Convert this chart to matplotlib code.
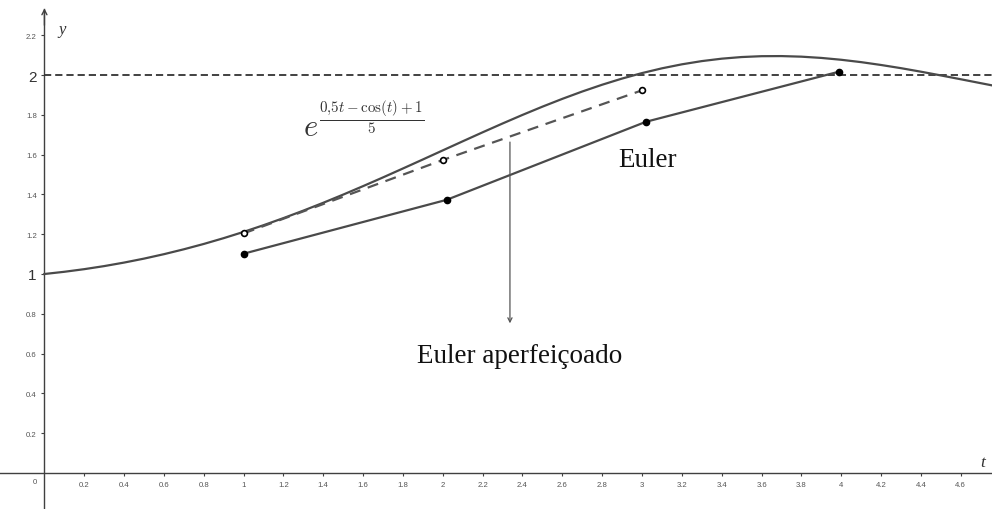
import matplotlib
matplotlib.use('Agg')
import matplotlib.pyplot as plt

# curve e^((0.5t - cos t + 1)/5)
t_curve = [0.0, 0.1, 0.2, 0.3, 0.4, 0.5, 0.6, 0.7, 0.8, 0.9, 1.0, 1.1, 1.2,
           1.3, 1.4, 1.5, 1.6, 1.7, 1.8, 1.9, 2.0, 2.1, 2.2, 2.3, 2.4, 2.5,
           2.6, 2.7, 2.8, 2.9, 3.0, 3.1, 3.2, 3.3, 3.4, 3.5, 3.6, 3.7, 3.8,
           3.9, 4.0, 4.1, 4.2, 4.3, 4.4, 4.5, 4.6, 4.7, 4.8]
y_curve = [1.0000, 1.0111, 1.0243, 1.0397, 1.0574, 1.0773, 1.0996, 1.1242,
           1.1510, 1.1802, 1.2116, 1.2452, 1.2809, 1.3185, 1.3580, 1.3991,
           1.4417, 1.4855, 1.5303, 1.5756, 1.6213, 1.6669, 1.7121, 1.7564,
           1.7995, 1.8409, 1.8802, 1.9171, 1.9512, 1.9822, 2.0097, 2.0336,
           2.0537, 2.0699, 2.0821, 2.0903, 2.0946, 2.0951, 2.0922, 2.0859,
           2.0766, 2.0647, 2.0504, 2.0344, 2.0167, 1.9980, 1.9787, 1.9591,
           1.9396]

# Euler (filled points)
euler_t = [1.0, 2.02, 3.02, 3.99]
euler_y = [1.102, 1.373, 1.765, 2.017]

# Euler aperfeicoado (open points)
impr_t = [1.0, 2.0, 3.0]
impr_y = [1.204, 1.573, 1.923]

xticks = [0.2, 0.4, 0.6, 0.8, 1, 1.2, 1.4, 1.6, 1.8, 2, 2.2, 2.4, 2.6, 2.8,
          3, 3.2, 3.4, 3.6, 3.8, 4, 4.2, 4.4, 4.6]
yticks = [0.2, 0.4, 0.6, 0.8, 1, 1.2, 1.4, 1.6, 1.8, 2, 2.2]

plt.rcParams['mathtext.fontset'] = 'cm'

fig = plt.figure(figsize=(9.92, 5.10), dpi=100)
ax = fig.add_axes([0, 0, 1, 1])
xmin, xmax = -0.223, 4.757
ax.set_xlim(xmin, xmax)
ax.set_ylim(-0.181, 2.382)

axcol = '#404040'
for s in ['top', 'right']:
    ax.spines[s].set_visible(False)
ax.spines['left'].set_position('zero')
ax.spines['bottom'].set_position('zero')
ax.spines['left'].set_bounds(-0.181, 2.33)
for s in ['left', 'bottom']:
    ax.spines[s].set_color(axcol)
    ax.spines[s].set_linewidth(1.0)
    ax.spines[s].set_zorder(1)

def fmt(v):
    return ('%g' % v)

ax.set_xticks(xticks)
ax.set_xticklabels([fmt(v) for v in xticks])
ax.set_yticks(yticks)
ax.set_yticklabels([fmt(v) for v in yticks])
ax.tick_params(direction='out', length=2.5, width=0.8, color=axcol,
               labelsize=5.6, labelcolor='#555555', pad=3)
for lab in ax.get_xticklabels() + ax.get_yticklabels():
    lab.set_family('Liberation Sans')
for lab, v in zip(ax.get_yticklabels(), yticks):
    if v in (1, 2):
        lab.set_fontsize(11)
        lab.set_color('#333333')

ax.text(-0.035, -0.025, '0', fontsize=5.6, color='#555555', family='Liberation Sans',
        ha='right', va='top')

# arrow at top of y axis
ax.annotate('', xy=(0, 2.335), xytext=(0, 2.25),
            arrowprops=dict(arrowstyle='->,head_length=0.35,head_width=0.18',
                            lw=1.0, color=axcol, shrinkA=0, shrinkB=0))

ax.text(0.07, 2.21, 'y', fontsize=12, family='Liberation Serif', style='italic',
        color='#333333', va='baseline')
ax.text(4.7, 0.035, 't', fontsize=12.5, family='Liberation Serif', style='italic',
        color='#333333', va='baseline')

# dashed line y = 2 (starts at the y axis)
ax.hlines(2, 0, xmax, color='#333333', lw=1.3, linestyles=(0, (4, 2.2)), zorder=2)

# curve
ax.plot(t_curve, y_curve, color='#4a4a4a', lw=1.6, zorder=3)

# Euler
ax.plot(euler_t, euler_y, color='#4a4a4a', lw=1.6, zorder=3)
ax.plot(euler_t, euler_y, 'o', ms=4.5, mfc='black', mec='black', ls='none', zorder=5)

# Euler aperfeicoado
ax.plot(impr_t, impr_y, color='#555555', lw=1.6, dashes=(5, 3.5), zorder=3)
ax.plot(impr_t, impr_y, 'o', ms=4.2, mfc='white', mec='black', mew=1.2, ls='none', zorder=5)

# labels
ax.text(1.298, 1.693, r'$e^{\frac{0{,}5t-\cos(t)+1}{5}}$', fontsize=22,
        color='#333333', va='baseline')
ax.text(2.88, 1.544, 'Euler', fontsize=19.5, family='Liberation Serif',
        color='#111111', va='baseline')
ax.text(1.87, 0.559, 'Euler aperfeiçoado', fontsize=19.5, family='Liberation Serif',
        color='#111111', va='baseline')

ax.annotate('', xy=(2.337, 0.752), xytext=(2.337, 1.663),
            arrowprops=dict(arrowstyle='->,head_length=0.3,head_width=0.15',
                            lw=0.9, color='#555555', shrinkA=0, shrinkB=0))

fig.savefig('out.png', dpi=100)
